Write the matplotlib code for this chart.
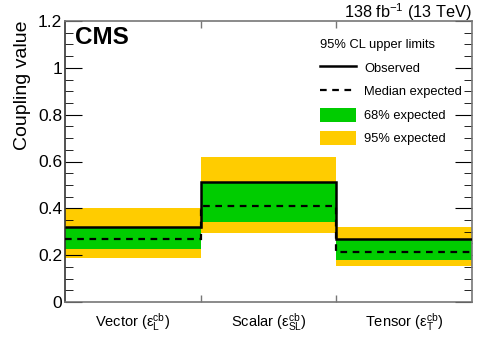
import matplotlib
matplotlib.use("Agg")
import matplotlib.pyplot as plt
import numpy as np
from matplotlib.lines import Line2D
from matplotlib.patches import Patch
from matplotlib.ticker import MultipleLocator

plt.rcParams['font.family'] = ['Liberation Sans', 'DejaVu Sans']
plt.rcParams['mathtext.fontset'] = 'custom'
plt.rcParams['mathtext.rm'] = 'Liberation Sans'
plt.rcParams['mathtext.it'] = 'Liberation Sans'

categories = [r"Vector ($\mathregular{\varepsilon_L^{cb}}$)",
              r"Scalar ($\mathregular{\varepsilon_{SL}^{cb}}$)",
              r"Tensor ($\mathregular{\varepsilon_T^{cb}}$)"]
observed = [0.320, 0.513, 0.270]
median = [0.268, 0.412, 0.215]
band68_lo = [0.225, 0.341, 0.180]
band68_hi = [0.322, 0.510, 0.268]
band95_lo = [0.190, 0.294, 0.155]
band95_hi = [0.400, 0.618, 0.322]

green = "#00cc00"
yellow = "#ffcc00"

fig = plt.figure(figsize=(4.98, 3.47), dpi=100)
ax = fig.add_axes([65 / 498, 1 - 302 / 347, (472 - 65) / 498, (302 - 21) / 347])

edges = np.arange(len(categories) + 1)
for i in range(len(categories)):
    ax.fill_between([edges[i], edges[i + 1]], band95_lo[i], band95_hi[i],
                    color=yellow, lw=0, zorder=1)
    ax.fill_between([edges[i], edges[i + 1]], band68_lo[i], band68_hi[i],
                    color=green, lw=0, zorder=2)

ax.stairs(median, edges, color="black", lw=1.6, ls=(0, (3, 2.5)), zorder=3,
          baseline=None)
ax.stairs(observed, edges, color="black", lw=1.8, zorder=4, baseline=None)

ax.set_xlim(0, 3)
ax.set_ylim(0, 1.2)
ax.set_xticks(edges[1:-1])
ax.set_xticklabels([])
ax.tick_params(axis="x", which="both", direction="in", top=True, length=5,
               color="#777777", width=1)
for i, lab in enumerate(categories):
    ax.text(i + 0.5, -0.04, lab, ha="center", va="top", fontsize=10.5,
            transform=ax.transData)

ax.yaxis.set_major_locator(MultipleLocator(0.2))
ax.yaxis.set_minor_locator(MultipleLocator(0.05))
ax.set_yticks([0, 0.2, 0.4, 0.6, 0.8, 1.0, 1.2])
ax.set_yticklabels(["0", "0.2", "0.4", "0.6", "0.8", "1", "1.2"])
ax.tick_params(axis="y", which="major", direction="in", right=True, length=12,
               labelsize=12.5, pad=2)
ax.tick_params(axis="y", which="minor", direction="in", right=True, length=6)
ax.set_ylabel("Coupling value", fontsize=14, loc="top", labelpad=5)
for s in ["bottom", "top", "right"]:
    ax.spines[s].set_color("#777777")
ax.spines["left"].set_color("#333333")
for s in ax.spines.values():
    s.set_linewidth(1.2)

fig.text(75 / 498, 1 - 37 / 347, "CMS", fontsize=17.5, fontweight="bold",
         va="center", ha="left")
fig.text(472 / 498, 1 - 12 / 347, r"138 fb$^{\mathregular{-1}}$ (13 TeV)",
         fontsize=11.7, ha="right", va="center")

handles = [Line2D([], [], color="black", lw=1.8),
           Line2D([], [], color="black", lw=1.6, ls=(0, (3, 2.5))),
           Patch(facecolor=green, edgecolor="none"),
           Patch(facecolor=yellow, edgecolor="none")]
labels = ["Observed", "Median expected", "68% expected", "95% expected"]
leg = ax.legend(handles, labels, title="95% CL upper limits", loc="upper left",
                bbox_to_anchor=((320 - 65) / 407, 1 - 18 / 281), frameon=False,
                fontsize=9.3, title_fontsize=9.3, handlelength=2.8,
                handleheight=1.3, labelspacing=0.7, handletextpad=0.6,
                borderaxespad=0, borderpad=0)
leg._legend_box.align = "left"
leg._legend_box.sep = 7

fig.savefig("out.png", dpi=100)
